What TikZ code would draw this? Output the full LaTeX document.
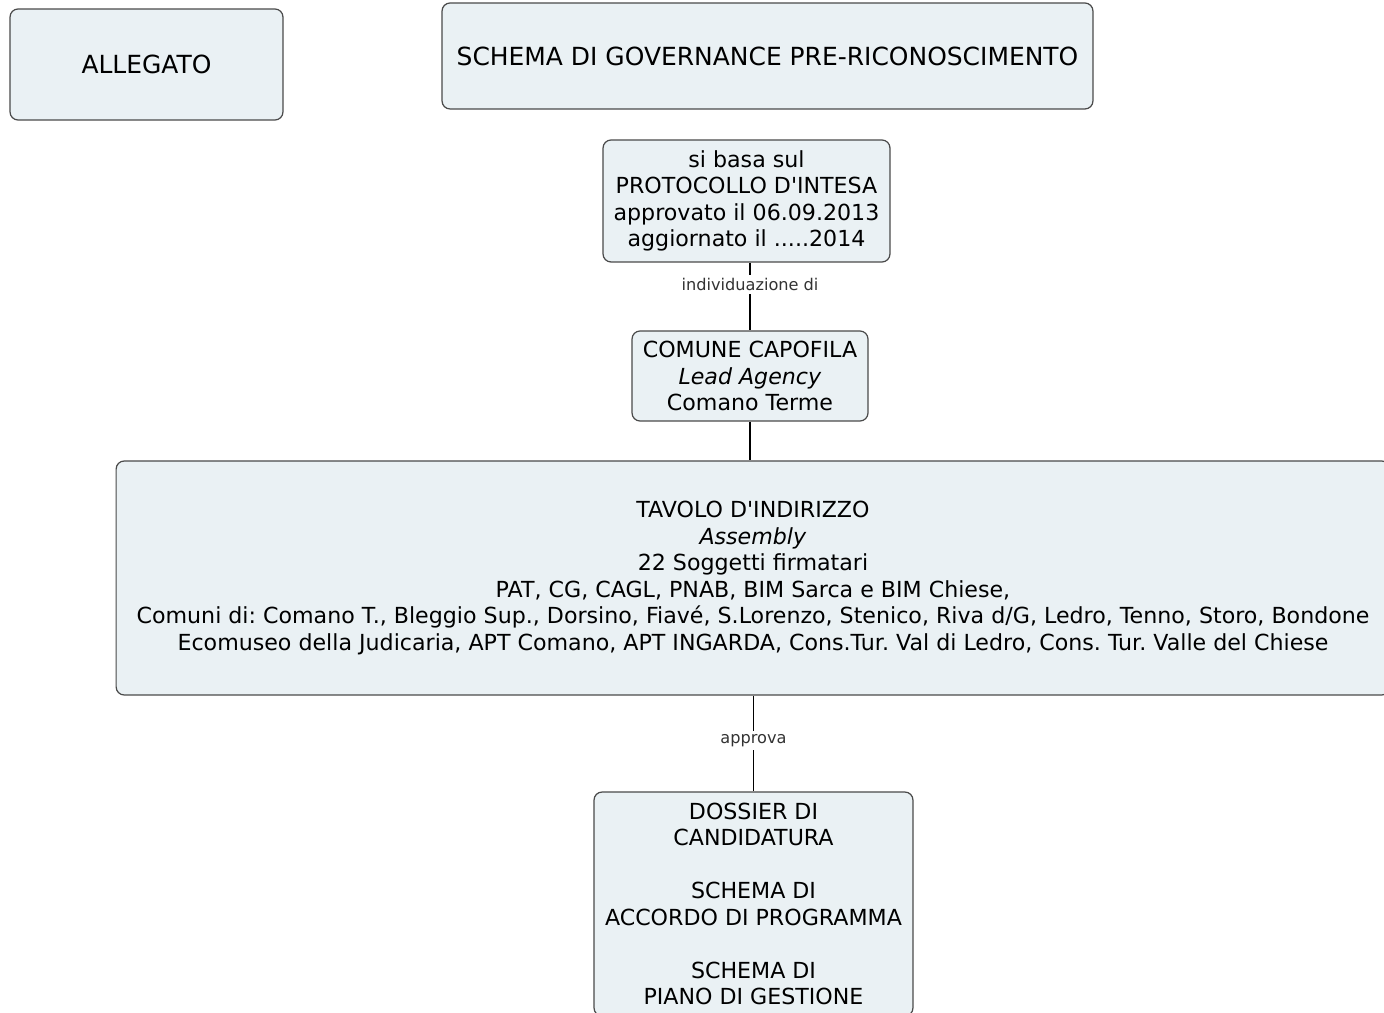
\documentclass[tikz,border=0pt]{standalone}
\usepackage{fontspec}
\setmainfont{DejaVu Sans}
\usetikzlibrary{positioning}

\definecolor{boxfill}{HTML}{EAF1F4}
\definecolor{boxline}{HTML}{4A4A4A}
\newcommand{\ap}{\textquotesingle}
\frenchspacing

\begin{document}
\begin{tikzpicture}[x=0.02cm, y=-0.02cm,
  box/.style={draw=boxline, fill=boxfill, rounded corners=0.16cm, line width=0.7pt,
    align=center, inner sep=0pt, font=\fontsize{12.6}{15.1}\selectfont},
  headbox/.style={box, font=\fontsize{14.2}{16}\selectfont},
  link/.style={draw=black, line width=0.9pt},
  linklabel/.style={fill=white, text=black!80, inner sep=2pt, font=\fontsize{9.2}{10}\selectfont}]

  \useasboundingbox (0,0) rectangle (1384,1013);
  \clip (0,0) rectangle (1384,1013);

  % --- header boxes ---
  \node[headbox, minimum width=5.46cm, minimum height=2.22cm] (alleg) at (146.5,64.5) {ALLEGATO};
  \node[headbox, minimum width=13.02cm, minimum height=2.12cm] (title) at (767.5,56)
    {SCHEMA DI GOVERNANCE PRE-RICONOSCIMENTO};

  % --- chain of boxes ---
  \node[box, minimum width=5.74cm, minimum height=2.44cm] (prot) at (746.5,201)
    {si basa sul\\PROTOCOLLO D\ap INTESA\\approvato il 06.09.2013\\aggiornato il .....2014};
  \node[box, minimum width=4.72cm, minimum height=1.8cm] (com) at (750,376)
    {COMUNE CAPOFILA\\\textit{Lead Agency}\\Comano Terme};
  \node[box, minimum width=25.48cm, minimum height=4.68cm] (tav) at (753,578)
    {TAVOLO D\ap INDIRIZZO\\\textit{Assembly}\\22 Soggetti firmatari\\
     PAT, CG, CAGL, PNAB, BIM Sarca e BIM Chiese,\\
     Comuni di: Comano T., Bleggio Sup., Dorsino, Fiavé, S.Lorenzo, Stenico, Riva d/G, Ledro, Tenno, Storo, Bondone\\
     Ecomuseo della Judicaria, APT Comano, APT INGARDA, Cons.Tur. Val di Ledro, Cons. Tur. Valle del Chiese};
  \node[box, minimum width=6.38cm, minimum height=4.48cm] (dos) at (753.5,904)
    {DOSSIER DI\\CANDIDATURA\\[\baselineskip]SCHEMA DI\\ACCORDO DI PROGRAMMA\\[\baselineskip]SCHEMA DI\\PIANO DI GESTIONE};

  % --- connectors ---
  \draw[link] (com.north |- prot.south) -- node[linklabel, pos=0.32] {individuazione di} (com.north);
  \draw[link] (com.south) -- (com.south |- tav.north);
  \draw[link] (dos.north |- tav.south) -- node[linklabel, pos=0.47] {approva} (dos.north);

\end{tikzpicture}
\end{document}
